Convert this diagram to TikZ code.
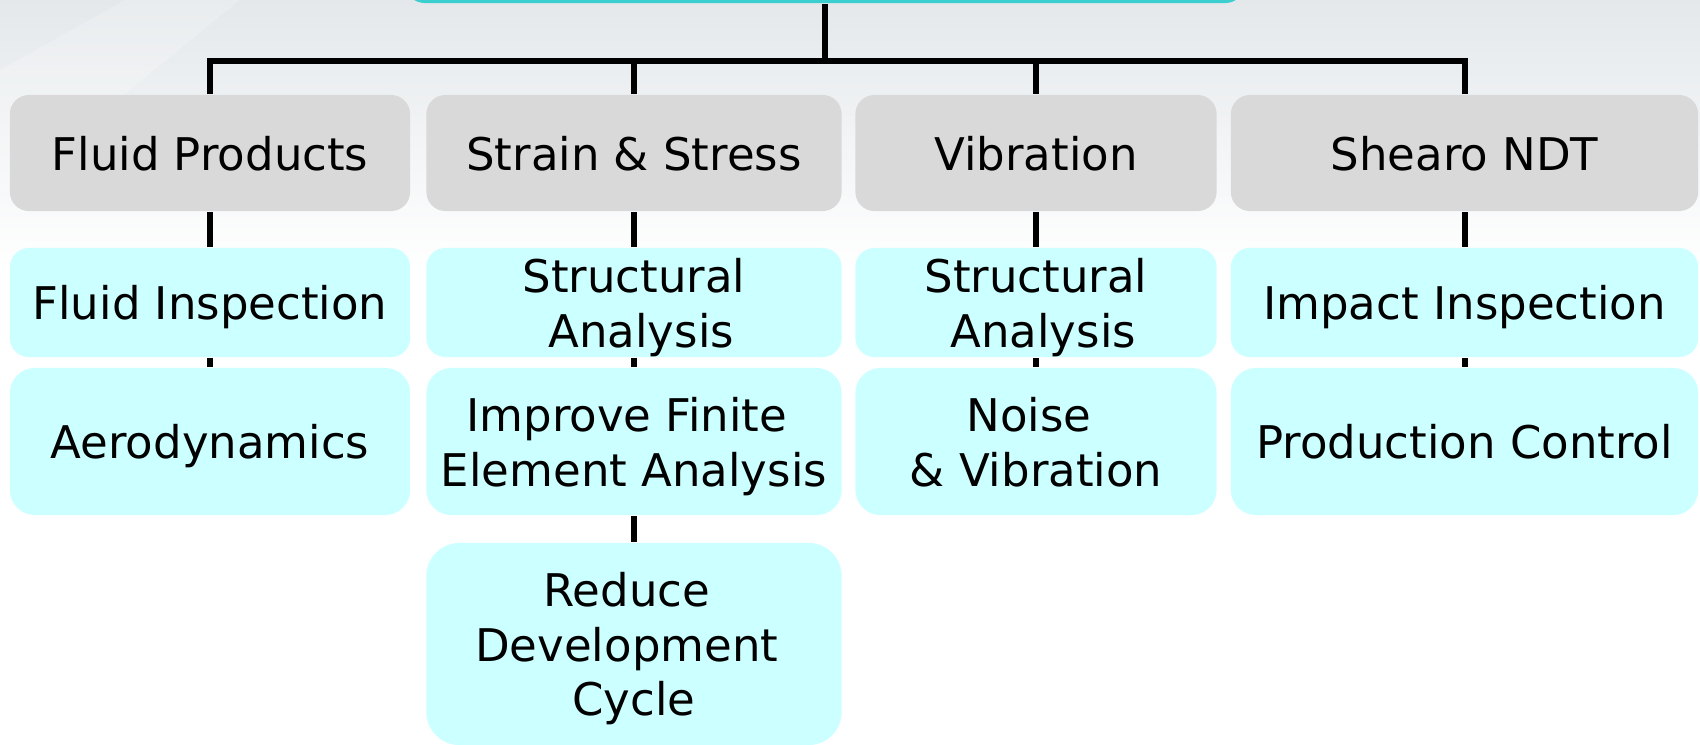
\documentclass[tikz,border=0pt]{standalone}
\usepackage{fontspec}
\setmainfont{DejaVu Sans}
\usetikzlibrary{positioning,backgrounds}

\pgfdeclarelayer{backdrop}
\pgfsetlayers{backdrop,background,main}

\definecolor{rootteal}{HTML}{3CCFCF}
\definecolor{catgray}{HTML}{D9D9D9}
\definecolor{leafcyan}{HTML}{CCFFFF}
\definecolor{skytop}{HTML}{E4E8EB}

% a space that survives at the start/end of a line
\newcommand{\padsp}{\kern0.32em}

\begin{document}
\begin{tikzpicture}[x=0.01cm,y=-0.01cm,
    every node/.style={font=\fontsize{12.8pt}{15.6pt}\selectfont,
                       align=center,inner sep=0pt,text depth=0pt},
    root node/.style={fill=rootteal,rounded corners=0.2cm,
                      minimum width=8.4cm,minimum height=0.9cm},
    cat node/.style={fill=catgray,rounded corners=0.19cm,minimum height=1.16cm},
    leaf node/.style={fill=leafcyan,rounded corners=0.19cm,minimum height=1.09cm},
    tall node/.style={leaf node,rounded corners=0.25cm,minimum height=1.47cm},
    link/.style={line width=0.06cm}
    ]
    \useasboundingbox (0,0) rectangle (1700,744);
    \clip (0,0) rectangle (1700,744);

    % backdrop
    \begin{pgfonlayer}{backdrop}
        \fill[white] (0,0) rectangle (1700,744);
        \shade[top color=skytop,bottom color=white] (0,0) rectangle (1700,270);
        \fill[white,opacity=0.2] (0,70) -- (125,0) -- (240,0) -- (0,195) -- cycle;
    \end{pgfonlayer}

    \node[root node] (root) at (825,-42) {};
    \coordinate (bus) at (825,61);

    % categories
    \node[cat node,minimum width=4cm]    (fluid)  at (210,153)    {Fluid Products};
    \node[cat node,minimum width=4.15cm] (strain) at (634,153)    {Strain \& Stress};
    \node[cat node,minimum width=3.61cm] (vib)    at (1036,153)   {Vibration};
    \node[cat node,minimum width=4.67cm] (ndt)    at (1464.5,153) {Shearo NDT};

    % first row
    \node[leaf node,minimum width=4cm]    (fluidinsp) at (210,302.5)    {Fluid Inspection};
    \node[leaf node,minimum width=4.15cm] (structA)   at (634,302.5)    {Structural\\\padsp Analysis};
    \node[leaf node,minimum width=3.61cm] (structB)   at (1036,302.5)   {Structural\\\padsp Analysis};
    \node[leaf node,minimum width=4.67cm] (impact)    at (1464.5,302.5) {Impact Inspection};

    % second row
    \node[tall node,minimum width=4cm]    (aero)  at (210,441.5)    {Aerodynamics};
    \node[tall node,minimum width=4.15cm] (fea)   at (634,441.5)    {Improve Finite\padsp\\Element Analysis};
    \node[tall node,minimum width=3.61cm] (noise) at (1036,441.5)   {Noise\padsp\\\& Vibration};
    \node[tall node,minimum width=4.67cm] (prod)  at (1464.5,441.5) {Production Control};

    % third row
    \node[leaf node,rounded corners=0.33cm,minimum width=4.15cm,minimum height=2.02cm]
        (reduce) at (634,644) {Reduce\padsp\\Development\padsp\\Cycle};

    \begin{scope}[on background layer]
        \draw[link] (root) -- (bus);
        \foreach \n in {fluid,strain,vib,ndt}
            \draw[link] (bus) -| (\n);
        \draw[link] (fluid) edge (fluidinsp) (fluidinsp) edge (aero)
                    (strain) edge (structA) (structA) edge (fea) (fea) edge (reduce)
                    (vib) edge (structB) (structB) edge (noise)
                    (ndt) edge (impact) (impact) edge (prod);
    \end{scope}
\end{tikzpicture}
\end{document}
